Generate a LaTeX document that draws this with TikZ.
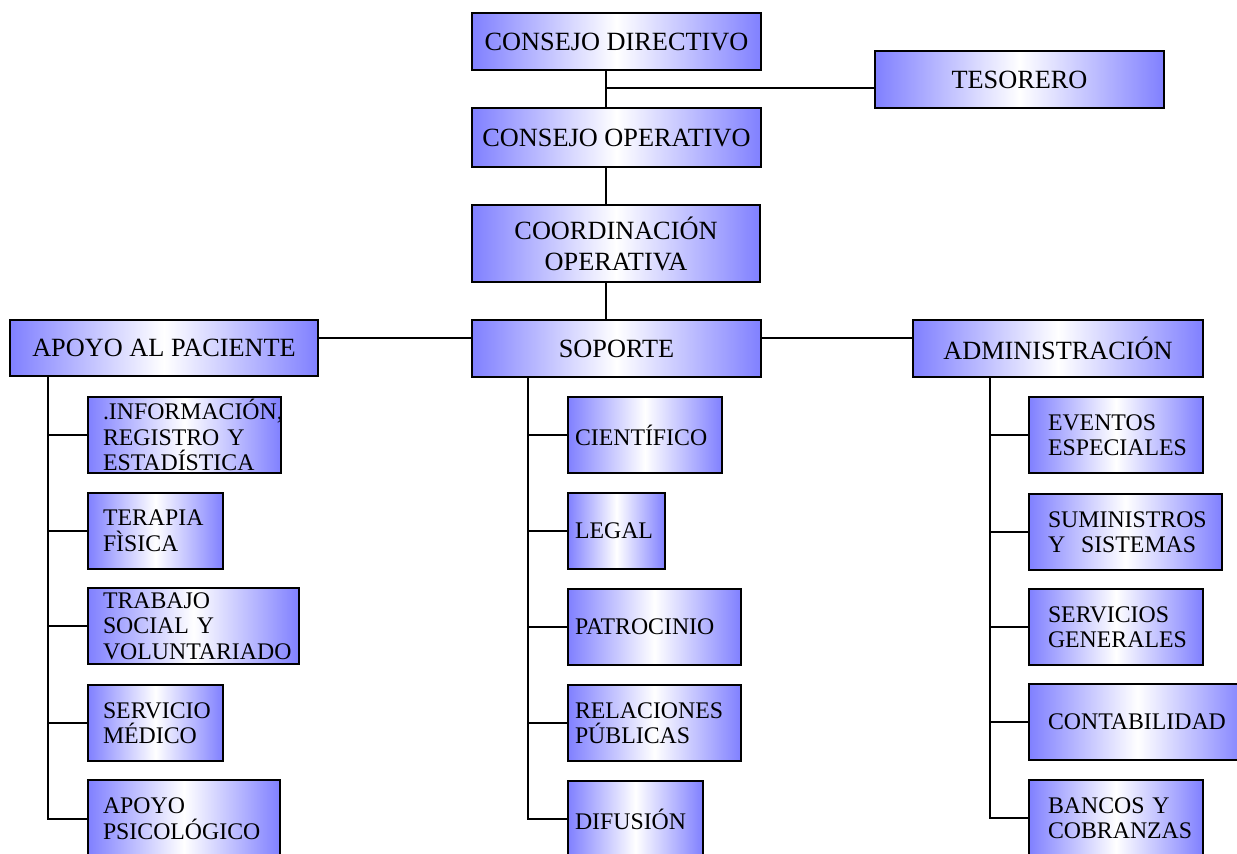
\documentclass[tikz,border=0pt]{standalone}
\usepackage{fontspec}
\setmainfont{Liberation Serif}
\usepackage{tikz}
\usetikzlibrary{positioning}
\definecolor{orgblue}{RGB}{128,128,255}

\begin{document}
\begin{tikzpicture}[
    x=1pt, y=-1pt,
    unit/.style={rectangle, draw=black, line width=2pt, left color=orgblue, right color=orgblue, middle color=white, anchor=north west},
    head/.style={unit, minimum width=289pt, minimum height=57pt, align=center, font=\fontsize{26.3}{31}\selectfont},
    sub/.style={unit, minimum height=76pt, inner ysep=0pt, align=left, font=\fontsize{23.8}{25.5}\selectfont},
    lsub/.style={sub, inner xsep=15pt},
    msub/.style={sub, inner xsep=7pt},
    rsub/.style={sub, inner xsep=19pt},
    link/.style={line width=2pt}
]
    \useasboundingbox (0,0) rectangle (1237,854);

    % upper chain
    \node[head] (directivo) at (471,12) {CONSEJO DIRECTIVO};
    \node[head] (tesorero) at (874,50) {TESORERO};
    \node[head, minimum height=59pt] (operativo) at (471,107) {CONSEJO OPERATIVO};
    \node[head, minimum width=288pt, minimum height=77pt] (coord) at (471,204) {COORDINACIÓN\\OPERATIVA};

    % areas
    \node[head, minimum width=308pt, minimum height=56pt] (paciente) at (9,319) {APOYO AL PACIENTE};
    \node[head] (soporte) at (471,319) {SOPORTE};
    \node[head, minimum width=290pt] (admin) at (912,319) {ADMINISTRACIÓN};

    % apoyo al paciente
    \node[lsub, text width=163pt] (info) at (87,396) {.INFORMACIÓN,\\REGISTRO Y\\ESTADÍSTICA};
    \node[lsub, text width=105pt] (terapia) at (87,492) {TERAPIA\\FÌSICA};
    \node[lsub, text width=181pt] (trabajo) at (87,587) {TRABAJO\\SOCIAL Y\\VOLUNTARIADO};
    \node[lsub, text width=105pt] (medico) at (87,684) {SERVICIO\\MÉDICO};
    \node[lsub, text width=162pt, minimum height=77pt] (psico) at (87,779) {APOYO\\PSICOLÓGICO};

    % soporte
    \node[msub, text width=140pt] (cientifico) at (567,396) {CIENTÍFICO};
    \node[msub, text width=83pt] (legal) at (567,492) {LEGAL};
    \node[msub, text width=159pt] (patrocinio) at (567,588) {PATROCINIO};
    \node[msub, text width=159pt] (relaciones) at (567,684) {RELACIONES\\PÚBLICAS};
    \node[msub, text width=121pt] (difusion) at (567,780) {DIFUSIÓN};

    % administracion
    \node[rsub, text width=136pt] (eventos) at (1028,396) {EVENTOS\\ESPECIALES};
    \node[rsub, text width=155pt] (suministros) at (1028,493) {SUMINISTROS\\Y~~SISTEMAS};
    \node[rsub, text width=136pt] (servicios) at (1028,588) {SERVICIOS\\GENERALES};
    \node[rsub, text width=179pt] (contabilidad) at (1028,683) {CONTABILIDAD};
    \node[rsub, text width=136pt] (bancos) at (1028,779) {BANCOS Y\\COBRANZAS};

    % connectors
    \coordinate (spine) at (606,88);
    \coordinate (hline) at (0,338);
    \coordinate (lcol) at (48,0);
    \coordinate (mcol) at (528,0);
    \coordinate (rcol) at (990,0);

    \draw[link] (spine |- directivo.south) -- (spine |- operativo.north);
    \draw[link] (spine) -- (spine -| tesorero.west);
    \draw[link] (spine |- operativo.south) -- (spine |- coord.north);
    \draw[link] (spine |- coord.south) -- (spine |- soporte.north);
    \draw[link] (paciente.east |- hline) -- (soporte.west |- hline);
    \draw[link] (soporte.east |- hline) -- (admin.west |- hline);

    \draw[link] (lcol |- paciente.south) |- (psico.west);
    \foreach \n in {info,terapia,trabajo,medico}
        \draw[link] (lcol |- \n.west) -- (\n.west);
    \draw[link] (mcol |- soporte.south) |- (difusion.west);
    \foreach \n in {cientifico,legal,patrocinio,relaciones}
        \draw[link] (mcol |- \n.west) -- (\n.west);
    \draw[link] (rcol |- admin.south) |- (bancos.west);
    \foreach \n in {eventos,suministros,servicios,contabilidad}
        \draw[link] (rcol |- \n.west) -- (\n.west);
\end{tikzpicture}
\end{document}
